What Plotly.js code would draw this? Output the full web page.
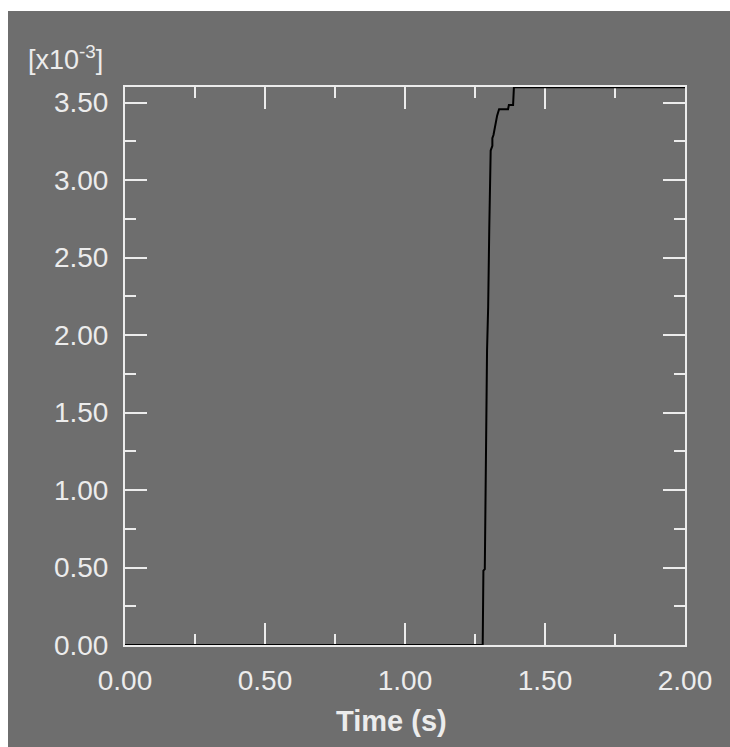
<!DOCTYPE html>
<html><head><meta charset="utf-8">
<script src="https://cdn.plot.ly/plotly-3.0.1.min.js"></script>
<style>html,body{margin:0;padding:0;background:#ffffff;overflow:hidden;}
#chart{position:absolute;left:8px;top:11px;width:722px;height:736px;}</style>
</head><body>
<div id="chart"></div>
<script>
// Time (s)
var timeS = [0.00, 1.2775, 1.280, 1.285, 1.293, 1.297, 1.301, 1.306, 1.312, 1.312, 1.316, 1.321, 1.329, 1.336, 1.368, 1.371, 1.386, 1.389, 2.00];
// value [x10^-3]
var valueE3 = [0.000, 0.000, 0.480, 0.490, 1.900, 2.180, 2.690, 3.190, 3.220, 3.270, 3.290, 3.350, 3.415, 3.457, 3.457, 3.484, 3.484, 3.598, 3.598];
var xTickVals = [0, 0.5, 1.0, 1.5, 2.0];
var xTickText = ["0.00", "0.50", "1.00", "1.50", "2.00"];
var yTickVals = [0, 0.5, 1.0, 1.5, 2.0, 2.5, 3.0, 3.5];
var yTickText = ["0.00", "0.50", "1.00", "1.50", "2.00", "2.50", "3.00", "3.50"];

var fg = "#ececec";
var fam = "Liberation Sans, Arial, sans-serif";
var trace = {
  x: timeS, y: valueE3, type: "scatter", mode: "lines",
  line: {color: "#000000", width: 2, shape: "linear"},
  hoverinfo: "skip", cliponaxis: false
};
var axisCommon = {
  showgrid: false, zeroline: false, showline: true, linecolor: fg, linewidth: 2,
  mirror: "allticks", ticks: "inside", ticklen: 22, tickwidth: 2, tickcolor: fg,
  tickfont: {family: fam, size: 28, color: fg},
  layer: "below traces", fixedrange: true
};
var layout = {
  width: 722, height: 736,
  paper_bgcolor: "#6e6e6e", plot_bgcolor: "#6e6e6e",
  margin: {l: 117, r: 45, t: 76, b: 102},
  showlegend: false,
  xaxis: Object.assign({}, axisCommon, {
    range: [0, 2], tickmode: "array", tickvals: xTickVals, ticktext: xTickText,
    minor: {dtick: 0.25, ticks: "inside", ticklen: 11, tickwidth: 2, tickcolor: fg},
    ticklabelstandoff: 9
  }),
  yaxis: Object.assign({}, axisCommon, {
    range: [0, 3.6], tickmode: "array", tickvals: yTickVals, ticktext: yTickText,
    minor: {dtick: 0.25, ticks: "inside", ticklen: 11, tickwidth: 2, tickcolor: fg},
    ticklabelstandoff: 9
  }),
  annotations: [{
    xref: "paper", yref: "paper", x: -0.177, y: 1.0, xanchor: "left", yanchor: "bottom", yshift: 10,
    text: "[x10<sup>-3</sup>]", showarrow: false,
    font: {family: fam, size: 27, color: fg}
  }, {
    xref: "paper", yref: "paper", x: 0.475, y: 0, xanchor: "center", yanchor: "top", yshift: -58,
    text: "<b>Time (s)</b>", showarrow: false,
    font: {family: fam, size: 29, color: fg}
  }]
};
Plotly.newPlot("chart", [trace], layout, {displayModeBar: false, staticPlot: true});
</script>
</body></html>
